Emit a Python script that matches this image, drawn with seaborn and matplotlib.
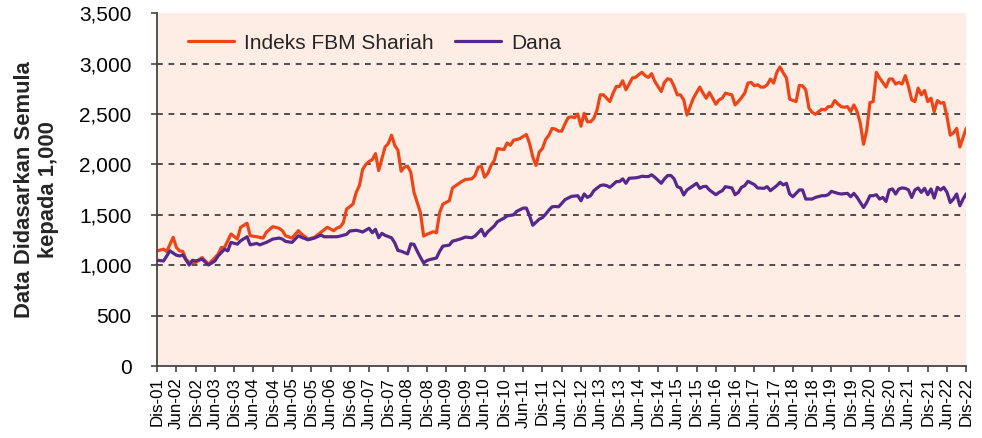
import matplotlib
matplotlib.use("Agg")
import matplotlib.pyplot as plt
import pandas as pd
import seaborn as sns

# Bulan sejak Dis-01 dan nilai (asas 1,000)
bulan_fbm = [0, 2, 3, 5, 6, 7, 8, 9, 10, 12, 14, 16, 17, 19, 20, 21, 23, 25, 26, 28, 29, 31, 33, 34,
             36, 38, 39, 40, 42, 44, 45, 47, 49, 51, 53, 55, 56, 57, 58, 59, 61, 62, 63, 64, 65, 66,
             67, 68, 69, 70, 71, 72, 73, 74, 75, 76, 77, 78, 79, 80, 82, 83, 84, 86, 87, 88, 89, 91,
             92, 93, 95, 96, 98, 99, 100, 101, 102, 103, 104, 105, 106, 108, 109, 110, 111, 112, 113,
             115, 116, 117, 118, 119, 120, 121, 122, 123, 124, 125, 126, 127, 128, 129, 130, 131, 132,
             133, 134, 135, 136, 137, 138, 139, 140, 141, 142, 143, 144, 145, 146, 147, 148, 149, 150,
             151, 152, 153, 154, 155, 157, 158, 159, 160, 161, 162, 163, 164, 165, 166, 167, 168, 169,
             170, 171, 172, 173, 174, 175, 176, 177, 178, 179, 180, 181, 182, 183, 184, 185, 186, 187,
             188, 189, 190, 191, 192, 193, 194, 195, 196, 197, 199, 200, 201, 202, 203, 204, 205, 206,
             207, 208, 209, 210, 211, 212, 213, 214, 215, 216, 217, 218, 219, 220, 221, 222, 223, 224,
             225, 226, 227, 228, 229, 230, 231, 232, 233, 234, 235, 236, 237, 238, 239, 240, 241, 242,
             243, 244, 245, 246, 247, 248, 249, 250, 251, 252]
nilai_fbm = [1143, 1160, 1137, 1277, 1177, 1143, 1137, 1060, 1027, 1027, 1077, 1010, 1043, 1110, 1177,
             1177, 1310, 1260, 1377, 1417, 1293, 1283, 1270, 1327, 1383, 1367, 1343, 1293, 1270, 1343,
             1310, 1260, 1277, 1327, 1377, 1343, 1370, 1380, 1423, 1557, 1607, 1723, 1790, 1950, 2000,
             2030, 2047, 2107, 1940, 2057, 2173, 2207, 2290, 2190, 2140, 1933, 1973, 1983, 1923, 1723,
             1523, 1290, 1307, 1333, 1323, 1523, 1607, 1640, 1767, 1790, 1833, 1850, 1857, 1890, 1973,
             1980, 1873, 1913, 1990, 2040, 2157, 2147, 2213, 2190, 2240, 2247, 2257, 2297, 2207, 2073,
             1990, 2123, 2157, 2247, 2290, 2357, 2350, 2330, 2330, 2400, 2463, 2473, 2463, 2500, 2380,
             2507, 2423, 2423, 2457, 2540, 2690, 2690, 2657, 2623, 2707, 2773, 2773, 2830, 2740, 2797,
             2857, 2863, 2890, 2913, 2880, 2863, 2900, 2823, 2723, 2813, 2850, 2840, 2773, 2690, 2690,
             2640, 2490, 2573, 2657, 2713, 2767, 2707, 2657, 2713, 2657, 2597, 2640, 2657, 2707, 2697,
             2690, 2590, 2623, 2663, 2707, 2807, 2813, 2780, 2790, 2767, 2767, 2790, 2847, 2807, 2913,
             2967, 2907, 2857, 2647, 2623, 2783, 2780, 2740, 2557, 2517, 2497, 2523, 2547, 2540, 2573,
             2573, 2633, 2600, 2573, 2567, 2573, 2523, 2590, 2523, 2407, 2200, 2340, 2613, 2623, 2913,
             2857, 2813, 2767, 2847, 2847, 2797, 2813, 2797, 2880, 2773, 2640, 2623, 2757, 2690, 2733,
             2623, 2657, 2523, 2633, 2607, 2613, 2473, 2290, 2313, 2357, 2173, 2267, 2360]

bulan_dana = [0, 2, 4, 6, 7, 8, 10, 11, 12, 14, 16, 18, 19, 21, 22, 23, 25, 26, 28, 29, 31, 32, 34, 36,
              38, 39, 40, 42, 44, 45, 47, 49, 51, 52, 54, 56, 57, 59, 60, 61, 62, 63, 64, 66, 67, 68,
              69, 70, 71, 73, 74, 75, 76, 78, 79, 80, 81, 82, 83, 84, 85, 87, 88, 89, 91, 92, 93, 95,
              96, 98, 99, 100, 101, 102, 103, 105, 106, 108, 109, 111, 112, 114, 115, 116, 117, 119,
              120, 121, 122, 123, 124, 125, 126, 127, 129, 131, 132, 133, 134, 135, 136, 138, 139, 140,
              141, 142, 143, 144, 145, 146, 147, 149, 150, 151, 152, 153, 154, 155, 157, 158, 159, 160,
              161, 162, 163, 164, 165, 167, 168, 169, 170, 171, 172, 174, 175, 176, 177, 178, 179, 180,
              181, 182, 183, 184, 186, 187, 189, 190, 191, 193, 194, 195, 196, 197, 198, 200, 201, 202,
              204, 205, 207, 208, 209, 210, 212, 213, 215, 216, 217, 218, 219, 220, 221, 222, 223, 224,
              225, 226, 227, 228, 229, 230, 231, 232, 233, 234, 235, 236, 237, 238, 239, 240, 241, 242,
              243, 244, 245, 246, 247, 248, 249, 250, 251, 252]
nilai_dana = [1050, 1043, 1143, 1100, 1093, 1103, 1003, 1050, 1043, 1060, 1003, 1043, 1093, 1160, 1143,
              1227, 1210, 1243, 1283, 1203, 1217, 1203, 1227, 1260, 1270, 1260, 1237, 1227, 1293, 1277,
              1253, 1270, 1300, 1283, 1283, 1283, 1290, 1307, 1340, 1343, 1347, 1340, 1330, 1367, 1323,
              1357, 1273, 1317, 1297, 1273, 1223, 1147, 1140, 1113, 1213, 1207, 1140, 1080, 1023, 1047,
              1057, 1073, 1140, 1190, 1200, 1240, 1247, 1267, 1280, 1273, 1290, 1323, 1357, 1290, 1333,
              1390, 1433, 1467, 1490, 1500, 1535, 1567, 1567, 1490, 1397, 1457, 1473, 1507, 1547, 1580,
              1583, 1580, 1613, 1650, 1683, 1690, 1640, 1707, 1673, 1690, 1740, 1790, 1797, 1790, 1773,
              1800, 1830, 1830, 1857, 1813, 1863, 1867, 1873, 1883, 1880, 1880, 1897, 1873, 1813, 1857,
              1890, 1890, 1857, 1780, 1767, 1697, 1747, 1790, 1813, 1763, 1780, 1783, 1747, 1700, 1723,
              1740, 1780, 1773, 1767, 1700, 1723, 1773, 1790, 1833, 1800, 1767, 1763, 1780, 1740, 1790,
              1823, 1797, 1813, 1707, 1680, 1747, 1747, 1657, 1657, 1673, 1690, 1690, 1700, 1733, 1713,
              1707, 1713, 1680, 1713, 1673, 1623, 1573, 1623, 1690, 1690, 1700, 1657, 1673, 1633, 1747,
              1757, 1707, 1757, 1767, 1763, 1747, 1673, 1747, 1767, 1723, 1763, 1700, 1757, 1667, 1773,
              1747, 1773, 1723, 1623, 1657, 1707, 1590, 1657, 1710]

label_x = [f"{b}-{t:02d}" for t in range(1, 23) for b in ("Jun", "Dis")][1:]
nama_siri = ["Indeks FBM Shariah", "Dana"]
warna = ["#EC4618", "#57288C"]

df = pd.concat([
    pd.DataFrame({"bulan": bulan_fbm, "nilai": nilai_fbm, "siri": nama_siri[0]}),
    pd.DataFrame({"bulan": bulan_dana, "nilai": nilai_dana, "siri": nama_siri[1]}),
])

sns.set_style("ticks")
plt.rcParams["font.family"] = ["Liberation Sans", "DejaVu Sans"]

fig = plt.figure(figsize=(9.82, 4.38), dpi=100)
ax = fig.add_axes([0.160, 0.164, 0.824, 0.806])
ax.set_facecolor("#FDEDE5")

sns.lineplot(data=df, x="bulan", y="nilai", hue="siri", palette=warna,
             hue_order=nama_siri, linewidth=2.3, ax=ax)

ax.set_xlim(0, 252)
ax.set_ylim(0, 3500)
ax.set_yticks(range(0, 3501, 500))
ax.set_yticklabels([f"{v:,}" for v in range(0, 3501, 500)], fontsize=15)
ax.set_xticks(range(0, 253, 6))
ax.set_xticklabels(label_x, rotation=90, fontsize=12.2)
for v in range(500, 3001, 500):
    ax.axhline(v, color="#404040", linestyle=(0, (3.2, 3.2)), linewidth=1.3, zorder=0.5)

ax.set_xlabel("")
ax.set_ylabel("Data Didasarkan Semula\nkepada 1,000", fontsize=15.8, fontweight="bold", labelpad=14)

for s in ("top", "right"):
    ax.spines[s].set_visible(False)
for s in ("left", "bottom"):
    ax.spines[s].set_color("#444444")
    ax.spines[s].set_linewidth(1.3)
ax.tick_params(axis="both", colors="#444444", length=4.5, width=1.2, labelcolor="black")
ax.tick_params(axis="y", pad=14)

ax.legend(loc="center left", bbox_to_anchor=(31 / 809, 1 - 30 / 353), ncol=2, frameon=False,
          fontsize=15, handlelength=2.2, handletextpad=0.5, columnspacing=1.0,
          borderpad=0, borderaxespad=0)

fig.savefig("out.png", dpi=100)
